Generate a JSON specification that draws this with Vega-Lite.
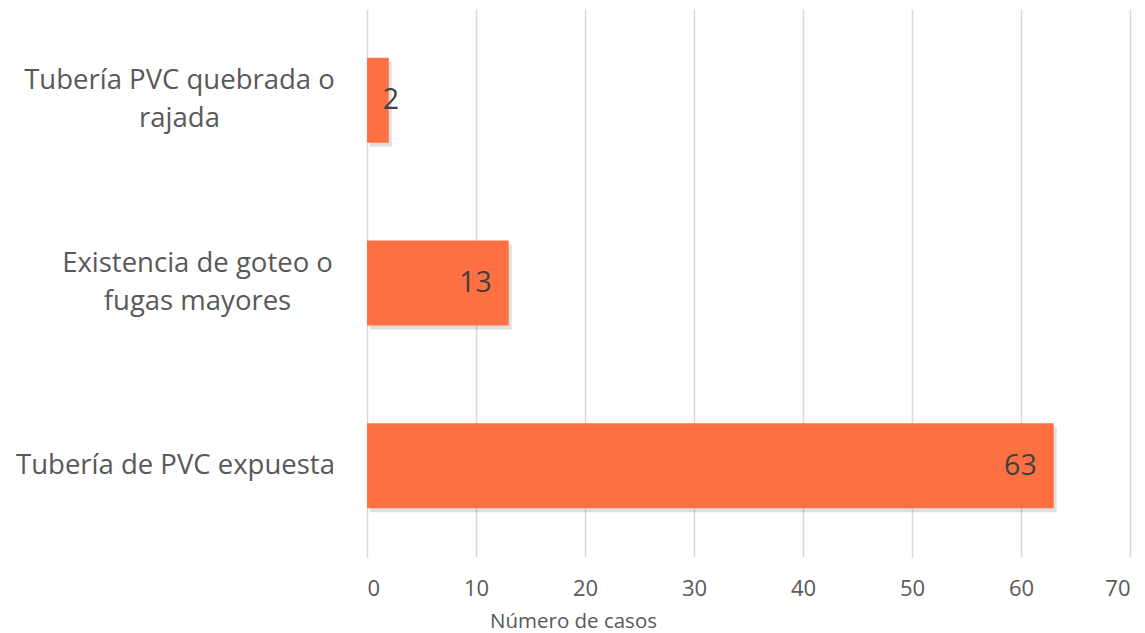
{
  "$schema": "https://vega.github.io/schema/vega-lite/v6.json",
  "width": 763,
  "height": 548,
  "autosize": "none",
  "padding": {"left": 367, "top": 9, "right": 15, "bottom": 76},
  "background": "white",
  "config": {"view": {"stroke": null}, "font": "Open Sans"},
  "data": {
    "values": [
      {"causa": "Tubería PVC quebrada o rajada", "casos": 2},
      {"causa": "Existencia de goteo o fugas mayores", "casos": 13},
      {"causa": "Tubería de PVC expuesta", "casos": 63}
    ]
  },
  "transform": [
    {"calculate": "replace(datum.causa, ' o ', ' o\\n')", "as": "etiqueta"}
  ],
  "encoding": {
    "y": {
      "field": "causa",
      "type": "nominal",
      "sort": null,
      "scale": {"paddingInner": 0.535, "paddingOuter": 0.2675},
      "axis": {
        "title": null,
        "domain": false,
        "ticks": false,
        "labels": false
      }
    },
    "x": {
      "field": "casos",
      "type": "quantitative",
      "scale": {"domain": [0, 70], "nice": false},
      "axis": {
        "values": [0, 10, 20, 30, 40, 50, 60, 70],
        "domain": false,
        "ticks": false,
        "grid": true,
        "gridColor": "#d9d9d9",
        "gridWidth": 1.5,
        "labelFont": "Open Sans",
        "labelFontSize": 22,
        "labelColor": "#595959",
        "labelPadding": 21,
        "title": "Número de casos",
        "titleFont": "Open Sans",
        "titleFontSize": 20.5,
        "titleFontWeight": "normal",
        "titleColor": "#595959",
        "titleX": 206,
        "titleY": 54,
        "titleAlign": "center"
      }
    }
  },
  "layer": [
    {"mark": {"type": "bar", "color": "#000000", "opacity": 0.12, "xOffset": 3, "yOffset": 4}},
    {"mark": {"type": "bar", "color": "#FF7043"}},
    {
      "transform": [{"filter": "datum.casos > 5"}],
      "mark": {"type": "text", "align": "right", "baseline": "middle", "dx": -17, "font": "Open Sans", "fontSize": 28.5, "color": "#404040"},
      "encoding": {"text": {"field": "casos", "type": "quantitative"}}
    },
    {
      "transform": [{"filter": "datum.casos <= 5"}],
      "mark": {"type": "text", "align": "left", "baseline": "middle", "dx": -6, "font": "Open Sans", "fontSize": 28.5, "color": "#404040"},
      "encoding": {"text": {"field": "casos", "type": "quantitative"}}
    },
    {
      "transform": [{"filter": "datum.causa == 'Tubería PVC quebrada o rajada'"}],
      "mark": {"type": "text", "align": "center", "baseline": "middle", "lineBreak": "\n", "lineHeight": 38, "dx": -187.5, "dy": -19, "font": "Open Sans", "fontSize": 27.5, "color": "#595959"},
      "encoding": {"x": {"datum": 0}, "text": {"field": "etiqueta", "type": "nominal"}}
    },
    {
      "transform": [{"filter": "datum.causa == 'Existencia de goteo o fugas mayores'"}],
      "mark": {"type": "text", "align": "center", "baseline": "middle", "lineBreak": "\n", "lineHeight": 38, "dx": -169.5, "dy": -19, "font": "Open Sans", "fontSize": 27.5, "color": "#595959"},
      "encoding": {"x": {"datum": 0}, "text": {"field": "etiqueta", "type": "nominal"}}
    },
    {
      "transform": [{"filter": "datum.causa == 'Tubería de PVC expuesta'"}],
      "mark": {"type": "text", "align": "center", "baseline": "middle", "lineBreak": "\n", "lineHeight": 38, "dx": -191.5, "dy": 0, "font": "Open Sans", "fontSize": 27.5, "color": "#595959"},
      "encoding": {"x": {"datum": 0}, "text": {"field": "etiqueta", "type": "nominal"}}
    }
  ]
}
